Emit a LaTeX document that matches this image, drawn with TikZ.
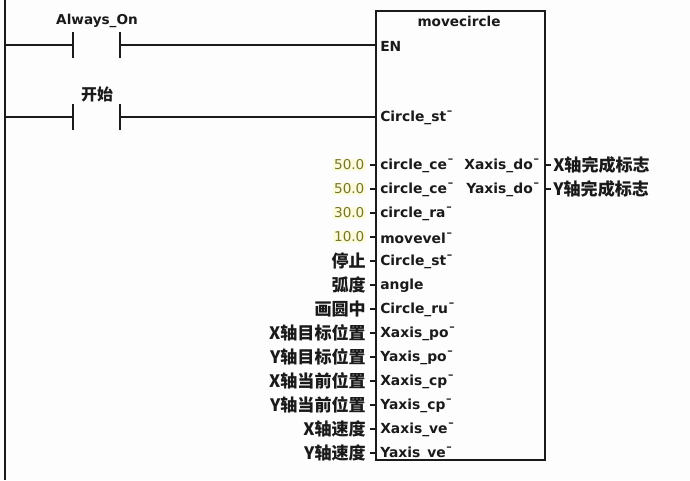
\documentclass[tikz,border=0pt]{standalone}
\usepackage{fontspec}
\setmainfont{DejaVu Sans}
\newfontfamily\cjk{Noto Sans CJK SC}
\newfontfamily\numf{DejaVu Sans}
\definecolor{ink}{HTML}{1A1A1A}
\definecolor{numtxt}{HTML}{77772A}
\definecolor{numbg}{HTML}{FCFBDC}
\definecolor{paper}{HTML}{FDFDFE}
\tikzset{
  x=0.75pt,y=-0.75pt,
  wire/.style={draw=ink,line width=1.5pt},
  pinl/.style={anchor=west,inner sep=0pt,yshift=-0.9pt,text=ink,font=\fontsize{10.4}{12}\selectfont\bfseries},
  pinr/.style={anchor=east,inner sep=0pt,yshift=-0.9pt,text=ink,font=\fontsize{10.4}{12}\selectfont\bfseries},
  val/.style={anchor=east,inner sep=1pt,fill=numbg,text=numtxt,font=\numf\fontsize{10.2}{12}\selectfont},
  sig/.style={anchor=east,inner sep=0pt,text=ink,font=\cjk\fontsize{12.8}{14}\selectfont\bfseries},
  sigo/.style={anchor=west,inner sep=0pt,text=ink,font=\cjk\fontsize{12.8}{14}\selectfont\bfseries},
  tag/.style={anchor=center,inner sep=0pt,text=ink,font=\fontsize{10.2}{12}\selectfont\bfseries},
  tagc/.style={anchor=center,inner sep=0pt,text=ink,font=\cjk\fontsize{12}{14}\selectfont\bfseries},
}
\begin{document}
\begin{tikzpicture}
\useasboundingbox (0,0) rectangle (690,480);
\fill[paper] (0,0) rectangle (690,480);
% power rail
\coordinate (railtop) at (5,0);
\coordinate (railbot) at (5,480);
\draw[wire] (railtop) -- (railbot);
% function block
\coordinate (bl) at (375.5,11);
\coordinate (br) at (544.5,11);
\coordinate (bd) at (544.5,460);
\coordinate (be) at (375.5,460);
\draw[wire] (bl) -- (br) -- (bd) -- (be) -- cycle;
\node[tag] (title) at (459,21) {movecircle};
% rung 1
\coordinate (r1) at (5,45);
\coordinate (c1a) at (73,45);
\coordinate (c1b) at (120,45);
\coordinate (en) at (375.5,45);
\coordinate (c1at) at (73,32); \coordinate (c1ab) at (73,58);
\coordinate (c1bt) at (120,32); \coordinate (c1bb) at (120,58);
\draw[wire] (r1) -- (c1a); \draw[wire] (c1b) -- (en);
\draw[wire] (c1at) -- (c1ab); \draw[wire] (c1bt) -- (c1bb);
\node[tag] (alw) at (97,21) {Always\_On};
\node[pinl] (enl) at (380,45) {EN};
% rung 2
\coordinate (r2) at (5,117);
\coordinate (c2a) at (73,117);
\coordinate (c2b) at (120,117);
\coordinate (st) at (375.5,117);
\coordinate (c2at) at (73,104); \coordinate (c2ab) at (73,130);
\coordinate (c2bt) at (120,104); \coordinate (c2bb) at (120,130);
\draw[wire] (r2) -- (c2a); \draw[wire] (c2b) -- (st);
\draw[wire] (c2at) -- (c2ab); \draw[wire] (c2bt) -- (c2bb);
\node[tagc] (kaishi) at (97,94) {开始};
\node[pinl] (p0) at (380,117) {Circle\_st¯};
% inputs
\foreach \i/\y/\pin/\src/\sty in {
 1/165/circle\_ce¯/50.0/val,
 2/189/circle\_ce¯/50.0/val,
 3/213/circle\_ra¯/30.0/val,
 4/237/movevel¯/10.0/val,
 5/261/Circle\_st¯/停止/sig,
 6/285/angle/弧度/sig,
 7/309/Circle\_ru¯/画圆中/sig,
 8/333/Xaxis\_po¯/X轴目标位置/sig,
 9/357/Yaxis\_po¯/Y轴目标位置/sig,
 10/381/Xaxis\_cp¯/X轴当前位置/sig,
 11/405/Yaxis\_cp¯/Y轴当前位置/sig,
 12/429/Xaxis\_ve¯/X轴速度/sig,
 13/453/Yaxis\_ve¯/Y轴速度/sig}{
  \node[pinl] (pin\i) at (380,\y) {\pin};
  \node[\sty] (src\i) at (366,\y) {\src};
  \draw[wire] (370,\y) -- (375.5,\y);
}
% outputs
\foreach \i/\y/\pin/\dst in {
 1/165/Xaxis\_do¯/X轴完成标志,
 2/189/Yaxis\_do¯/Y轴完成标志}{
  \node[pinr] (out\i) at (540,\y) {\pin};
  \node[sigo] (dst\i) at (553,\y) {\dst};
  \draw[wire] (544.5,\y) -- (551,\y);
}
\end{tikzpicture}
\end{document}
